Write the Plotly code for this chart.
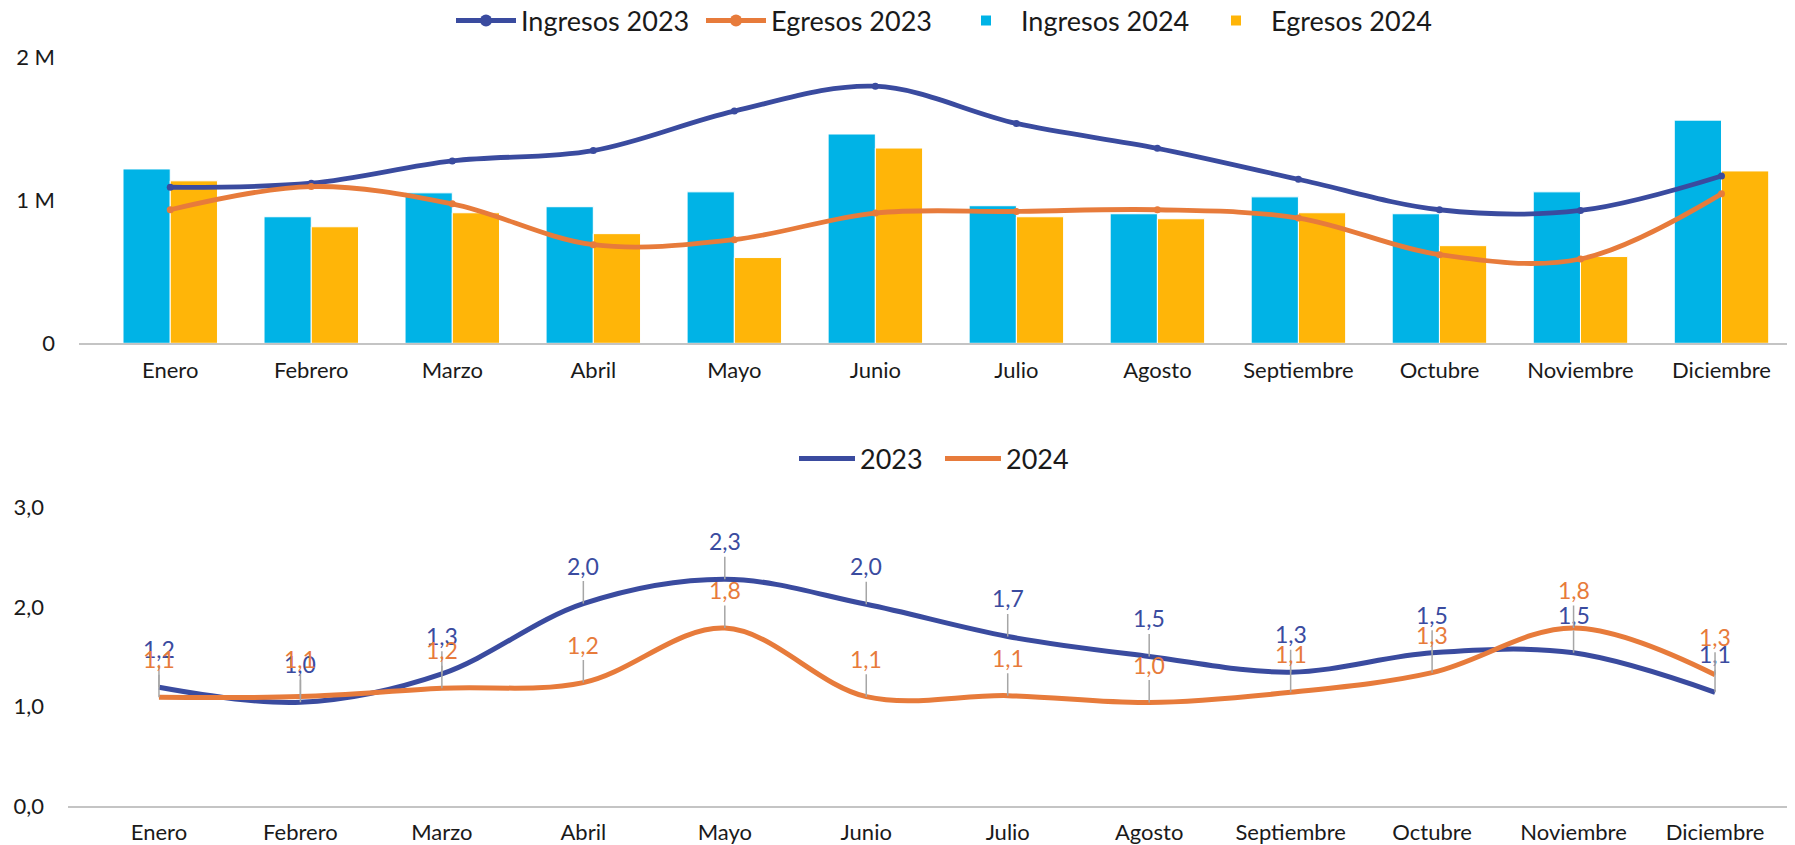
import plotly.graph_objects as go

months = ["Enero", "Febrero", "Marzo", "Abril", "Mayo", "Junio", "Julio",
          "Agosto", "Septiembre", "Octubre", "Noviembre", "Diciembre"]

# Top chart (millions)
ingresos_2023 = [1.090, 1.118, 1.274, 1.346, 1.622, 1.796, 1.536, 1.362, 1.146, 0.933, 0.928, 1.169]
egresos_2023 = [0.933, 1.095, 0.974, 0.689, 0.724, 0.910, 0.921, 0.933, 0.875, 0.619, 0.589, 1.044]
ingresos_2024 = [1.218, 0.884, 1.051, 0.954, 1.058, 1.462, 0.961, 0.905, 1.023, 0.905, 1.058, 1.559]
egresos_2024 = [1.135, 0.814, 0.912, 0.766, 0.599, 1.364, 0.884, 0.870, 0.912, 0.682, 0.606, 1.204]

# Bottom chart (ratio)
ratio_2023 = [1.193, 1.042, 1.328, 2.034, 2.279, 2.027, 1.704, 1.503, 1.345, 1.540, 1.540, 1.143]
ratio_2024 = [1.092, 1.100, 1.183, 1.240, 1.788, 1.099, 1.109, 1.040, 1.143, 1.340, 1.790, 1.320]

top_ticks = [0, 1, 2]
top_ticktext = ["0", "1 M", "2 M"]

C_BLUE_D = "#3A4B9F"
C_ORANGE = "#E77B3B"
C_CYAN = "#00B3E6"
C_YELLOW = "#FFB508"
FONT = "Lato"
W, H = 1795, 845
OFF = 8  # page body margin

M = 1e6
fig = go.Figure()

fig.add_trace(go.Scatter(x=months, y=[v * M for v in ingresos_2023], name="Ingresos 2023",
                         mode="lines+markers", line=dict(color=C_BLUE_D, width=4.8, shape="spline", smoothing=1),
                         marker=dict(size=7, color=C_BLUE_D), xaxis="x", yaxis="y", legend="legend"))
fig.add_trace(go.Scatter(x=months, y=[v * M for v in egresos_2023], name="Egresos 2023",
                         mode="lines+markers", line=dict(color=C_ORANGE, width=4.8, shape="spline", smoothing=1),
                         marker=dict(size=7, color=C_ORANGE), xaxis="x", yaxis="y", legend="legend"))
fig.add_trace(go.Bar(x=months, y=[v * M for v in ingresos_2024], name="Ingresos 2024",
                     marker=dict(color=C_CYAN, line=dict(color="white", width=1)),
                     xaxis="x", yaxis="y", legend="legend"))
fig.add_trace(go.Bar(x=months, y=[v * M for v in egresos_2024], name="Egresos 2024",
                     marker=dict(color=C_YELLOW, line=dict(color="white", width=1)),
                     xaxis="x", yaxis="y", legend="legend"))

fig.add_trace(go.Scatter(x=months, y=ratio_2023, name="2023", mode="lines",
                         line=dict(color=C_BLUE_D, width=5, shape="spline", smoothing=1),
                         xaxis="x2", yaxis="y2", legend="legend2"))
fig.add_trace(go.Scatter(x=months, y=ratio_2024, name="2024", mode="lines",
                         line=dict(color=C_ORANGE, width=5, shape="spline", smoothing=1),
                         xaxis="x2", yaxis="y2", legend="legend2"))

def fmt(v):
    return f"{v:.1f}".replace(".", ",")

annotations = []
for series, color in ((ratio_2023, C_BLUE_D), (ratio_2024, C_ORANGE)):
    for m, v in zip(months, series):
        annotations.append(dict(
            x=m, y=v, xref="x2", yref="y2", text=fmt(v), showarrow=True,
            arrowhead=0, arrowwidth=1.5, arrowcolor="#A6A6A6", ax=0, ay=-38,
            standoff=0, font=dict(family=FONT, size=23, color=color)))

axis_font = dict(family=FONT, size=22, color="#1a1a1a")

def px_x(p):
    return (p - OFF) / W

def px_y(p):
    return 1 - (p - OFF) / H

fig.update_layout(
    width=W, height=H,
    margin=dict(l=0, r=0, t=0, b=0, autoexpand=False),
    paper_bgcolor="white", plot_bgcolor="white",
    separators=",.",
    font=dict(family=FONT, size=22, color="#1a1a1a"),
    barmode="group", bargap=0.33, bargroupgap=0,
    xaxis=dict(domain=[px_x(79), px_x(1792)], range=[-0.647, 11.5], anchor="y", automargin=False,
               showline=True, linecolor="#C4C4C4", linewidth=2, showgrid=False,
               ticks="", tickfont=axis_font, ticklabelstandoff=6),
    yaxis=dict(domain=[px_y(343.3), px_y(57)], range=[0, 2 * M], anchor="x", automargin=False,
               tickvals=[t * M for t in top_ticks], ticktext=top_ticktext,
               showgrid=False, zeroline=False, showline=False, ticks="",
               tickfont=axis_font, ticklabelstandoff=23),
    xaxis2=dict(domain=[px_x(68), px_x(1790)], range=[-0.643, 11.53], anchor="y2", automargin=False,
                showline=True, linecolor="#C4C4C4", linewidth=2, showgrid=False,
                ticks="", tickfont=axis_font, ticklabelstandoff=6),
    yaxis2=dict(domain=[px_y(806), px_y(507.5)], range=[0, 3], anchor="x2", automargin=False,
                tickvals=[0, 1, 2, 3], tickformat=".1f",
                showgrid=False, zeroline=False, showline=False, ticks="",
                tickfont=axis_font, ticklabelstandoff=23),
    legend=dict(orientation="h", x=px_x(451), xanchor="left", y=px_y(21), yanchor="middle",
                font=dict(family=FONT, size=27, color="#1a1a1a"), bgcolor="rgba(0,0,0,0)",
                traceorder="normal", itemwidth=60, itemsizing="constant",
                entrywidth=175, entrywidthmode="pixels"),
    legend2=dict(orientation="h", x=px_x(794), xanchor="left", y=px_y(459), yanchor="middle",
                 font=dict(family=FONT, size=27, color="#1a1a1a"), bgcolor="rgba(0,0,0,0)",
                 itemwidth=56, entrywidth=75, entrywidthmode="pixels"),
    annotations=annotations,
)

fig.write_html("out.html")
